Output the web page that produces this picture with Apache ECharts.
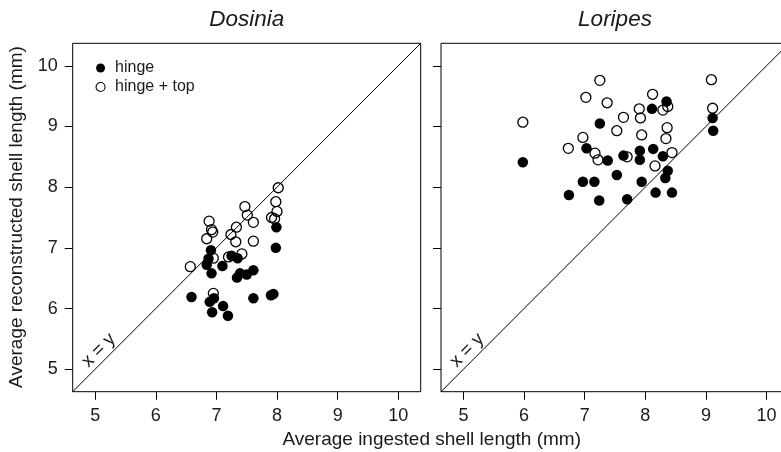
<!DOCTYPE html>
<html><head><meta charset="utf-8">
<script src="https://cdn.jsdelivr.net/npm/echarts@6/dist/echarts.min.js"></script>
<style>html,body{margin:0;padding:0;background:#fff}#c{width:781px;height:452px}</style>
</head><body><div id="c"></div>
<script>
// ---- data ----
const tickValues = [5, 6, 7, 8, 9, 10];
const axisRange = [4.63, 10.37];
const panelTitles = ['Dosinia', 'Loripes'];
const seriesNames = ['hinge', 'hinge + top'];
const xTitle = 'Average ingested shell length (mm)';
const yTitle = 'Average reconstructed shell length (mm)';
const identityLabel = 'x = y';
const identityLabelPos = [5.06, 5.31];

const dosiniaHingeX = [6.59,6.89,6.96,6.93,7.11,7.19,7.61,7.90,7.94,7.34,7.39,7.50,7.61,6.92,6.84,6.87,6.91,7.10,7.25,7.35,7.99,7.98];
const dosiniaHingeY = [6.19,6.11,6.17,5.94,6.04,5.88,6.17,6.22,6.24,6.51,6.58,6.56,6.63,6.58,6.72,6.82,6.96,6.70,6.87,6.83,7.34,7.00];
const dosiniaTopX = [8.02,7.98,8.00,7.91,7.96,7.47,7.51,7.61,7.33,7.24,7.32,7.61,6.88,6.92,6.94,6.84,7.42,6.57,6.95,7.20,6.95];
const dosiniaTopY = [7.99,7.76,7.60,7.50,7.48,7.68,7.54,7.42,7.34,7.22,7.10,7.11,7.44,7.30,7.26,7.15,6.90,6.69,6.83,6.85,6.25];

const loripesHingeX = [8.35,8.11,7.25,5.98,7.03,7.38,7.64,7.91,7.91,8.13,8.29,7.53,6.97,7.16,7.94,8.37,8.33,6.74,7.24,7.70,8.17,8.44,9.11,9.12];
const loripesHingeY = [9.41,9.29,9.05,8.41,8.64,8.44,8.52,8.60,8.45,8.63,8.51,8.20,8.09,8.09,8.09,8.27,8.15,7.87,7.78,7.80,7.91,7.91,9.14,8.93];
const loripesTopX = [7.25,7.02,7.37,5.98,8.12,7.90,8.29,8.37,7.64,7.92,7.53,8.36,7.94,6.97,8.34,6.73,7.17,7.22,7.70,8.44,8.16,9.09,9.11];
const loripesTopY = [9.76,9.48,9.39,9.07,9.53,9.29,9.27,9.33,9.15,9.14,8.93,8.98,8.86,8.82,8.80,8.64,8.56,8.45,8.50,8.57,8.35,9.77,9.30];

// ---- chart ----
const FONT = '"Liberation Sans", Arial, Helvetica, sans-serif';
const TXT = '#1a1a1a';
const zip = (xs, ys) => xs.map((x, i) => [x, ys[i]]);

const gridBox = (left) => ({left: left, top: 43.3, width: 348, height: 348.4, show: true,
  borderColor: '#000', borderWidth: 1, backgroundColor: 'transparent', containLabel: false,
  outerBoundsMode: 'none'});

function axis(gi, showLabels) {
  return {
    type: 'value', gridIndex: gi, min: axisRange[0], max: axisRange[1],
    splitLine: {show: false}, axisLine: {show: false},
    axisTick: {show: true, inside: false, length: 8, lineStyle: {color: '#000', width: 1}, customValues: tickValues},
    axisLabel: {show: showLabels, customValues: tickValues, fontSize: 18, color: TXT, fontFamily: FONT, margin: 15}
  };
}

const openStyle = {color: 'rgba(0,0,0,0)', borderColor: '#000', borderWidth: 1.3, opacity: 1};
const filledStyle = {color: '#000', borderColor: '#000', borderWidth: 0, opacity: 1};

function panelSeries(gi, hx, hy, tx, ty) {
  return [
    {type: 'line', xAxisIndex: gi, yAxisIndex: gi, data: [[axisRange[0], axisRange[0]], [axisRange[1], axisRange[1]]],
     symbol: 'none', lineStyle: {color: '#000', width: 1}, silent: true, z: 1},
    {type: 'scatter', name: seriesNames[1], xAxisIndex: gi, yAxisIndex: gi, data: zip(tx, ty),
     symbol: 'circle', symbolSize: 10, itemStyle: openStyle, silent: true, z: 2},
    {type: 'scatter', name: seriesNames[0], xAxisIndex: gi, yAxisIndex: gi, data: zip(hx, hy),
     symbol: 'circle', symbolSize: 10.5, itemStyle: filledStyle, silent: true, z: 3},
    {type: 'scatter', xAxisIndex: gi, yAxisIndex: gi, data: [identityLabelPos], symbolSize: 0, silent: true, z: 4,
     itemStyle: {opacity: 1, color: '#000'},
     label: {show: true, position: 'inside', formatter: identityLabel, rotate: 45, fontSize: 18.5, color: TXT, opacity: 1, fontFamily: FONT}}
  ];
}

const chart = echarts.init(document.getElementById('c'), null, {renderer: 'canvas'});
chart.setOption({
  animation: false,
  backgroundColor: '#fff',
  textStyle: {fontFamily: FONT},
  title: [
    {text: panelTitles[0], left: 246.7, top: 8.5, textAlign: 'center', padding: 0,
     textStyle: {fontStyle: 'italic', fontWeight: 'normal', fontSize: 22.5, lineHeight: 23, color: TXT, fontFamily: FONT}},
    {text: panelTitles[1], left: 615, top: 8.5, textAlign: 'center', padding: 0,
     textStyle: {fontStyle: 'italic', fontWeight: 'normal', fontSize: 22.5, lineHeight: 23, color: TXT, fontFamily: FONT}},
    {text: xTitle, left: 431.7, top: 430.5, textAlign: 'center', padding: 0,
     textStyle: {fontWeight: 'normal', fontSize: 19, lineHeight: 19, color: TXT, fontFamily: FONT}}
  ],
  legend: {
    left: 95.5, top: 58.5, orient: 'vertical', itemWidth: 9, itemHeight: 9, itemGap: 0, padding: 0,
    selectedMode: false,
    data: [
      {name: seriesNames[0], icon: 'circle', itemStyle: {color: '#000', borderWidth: 0, opacity: 1}},
      {name: seriesNames[1], icon: 'circle', itemStyle: {color: 'rgba(0,0,0,0)', borderColor: '#000', borderWidth: 1.1, opacity: 1}}
    ],
    textStyle: {fontSize: 16, lineHeight: 19, color: TXT, fontFamily: FONT, padding: [0, 0, 0, 5]}
  },
  graphic: [
    {type: 'text', x: 17, y: 217, rotation: Math.PI / 2,
     style: {text: yTitle, fontSize: 19, fill: TXT, fontFamily: FONT, align: 'center', verticalAlign: 'middle',
             textAlign: 'center', textVerticalAlign: 'middle'}}
  ],
  grid: [gridBox(72.7), gridBox(441)],
  xAxis: [axis(0, true), axis(1, true)],
  yAxis: [axis(0, true), axis(1, false)],
  series: [].concat(
    panelSeries(0, dosiniaHingeX, dosiniaHingeY, dosiniaTopX, dosiniaTopY),
    panelSeries(1, loripesHingeX, loripesHingeY, loripesTopX, loripesTopY)
  )
});
</script></body></html>
